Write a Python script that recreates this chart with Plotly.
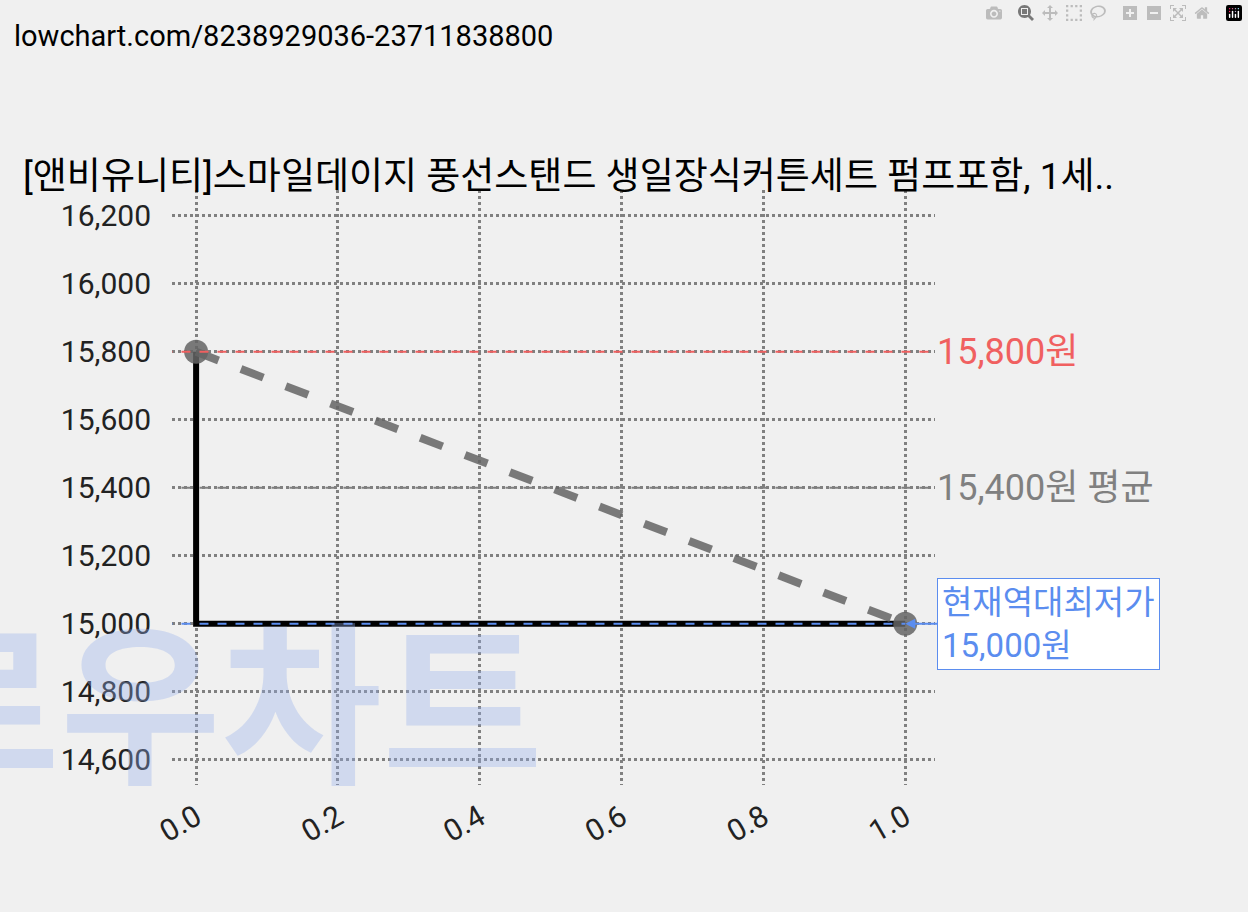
import plotly.graph_objects as go

xs = [0.0, 1.0]
prices = [15800, 15000]
max_price = 15800
avg_price = 15400
min_price = 15000
xticks = [0.0, 0.2, 0.4, 0.6, 0.8, 1.0]
yticks = [14600, 14800, 15000, 15200, 15400, 15600, 15800, 16000, 16200]

FONT = "Roboto, Noto Sans CJK KR"
fig = go.Figure()
fig.add_annotation(xref="paper", yref="paper", x=-0.36, y=-0.05, text="<b>로우차트</b>", showarrow=False,
                   xanchor="left", yanchor="bottom", font=dict(size=175, color="rgba(150,175,235,0.35)", family=FONT))
fig.add_trace(go.Scatter(x=xs, y=prices, mode="lines", line=dict(color="black", width=6, shape="vh")))
fig.add_trace(go.Scatter(x=xs, y=prices, mode="lines+markers",
                         line=dict(color="rgba(100,100,100,0.85)", width=8, dash="dash"),
                         marker=dict(size=24, color="rgba(100,100,100,0.85)")))
fig.add_shape(type="line", x0=-0.046, x1=1.042, y0=max_price, y1=max_price, line=dict(color="#f06060", width=2, dash="dash"))
fig.add_shape(type="line", x0=-0.046, x1=1.042, y0=avg_price, y1=avg_price, line=dict(color="#808080", width=2, dash="dash"))
fig.add_shape(type="line", x0=-0.046, x1=1.0, y0=min_price, y1=min_price, line=dict(color="#5b8def", width=2, dash="dash"))

fig.add_annotation(x=1.042, y=max_price, text=f"{max_price:,}원", showarrow=False, xanchor="left",
                   font=dict(size=36, color="#f06060", family=FONT))
fig.add_annotation(x=1.042, y=avg_price, text=f"{avg_price:,}원 평균", showarrow=False, xanchor="left",
                   font=dict(size=36, color="#808080", family=FONT))
fig.add_annotation(x=1.0, y=min_price, text=f"현재역대최저가<br>{min_price:,}원", showarrow=True,
                   arrowhead=2, arrowcolor="#5b8def", arrowwidth=2, ax=32, ay=0, xanchor="left", align="left",
                   bgcolor="white", bordercolor="#5b8def", borderwidth=1, borderpad=4,
                   font=dict(size=33, color="#5b8def", family=FONT))
fig.add_annotation(xref="paper", yref="paper", x=-0.21, y=1.29, text="lowchart.com/8238929036-23711838800",
                   showarrow=False, xanchor="left", font=dict(size=29, color="black", family=FONT))
fig.add_annotation(xref="paper", yref="paper", x=0.52, y=1.062,
                   text="[앤비유니티]스마일데이지 풍선스탠드 생일장식커튼세트 펌프포함, 1세..",
                   showarrow=False, xanchor="center", font=dict(size=37, color="black", family=FONT))

grid = dict(showgrid=True, gridcolor="#808080", griddash="dot", gridwidth=2.5, zeroline=False,
            showline=False, ticks="", tickfont=dict(size=30, color="#222", family=FONT))
fig.update_xaxes(range=[-0.034, 1.042], tickvals=xticks, ticktext=[f"{v:.1f}" for v in xticks],
                 tickangle=-30, ticklabelstandoff=8, **grid)
fig.update_yaxes(range=[14526, 16276], tickvals=yticks, ticktext=[f"{v:,}" for v in yticks],
                 ticklabelstandoff=20, **grid)
fig.update_layout(width=1248, height=912, margin=dict(l=172, r=313, t=190, b=127),
                  paper_bgcolor="#f0f0f0", plot_bgcolor="#f0f0f0", showlegend=False)
fig.write_html("out.html", post_script="document.body.style.margin='0';document.body.style.background='#f0f0f0';")
